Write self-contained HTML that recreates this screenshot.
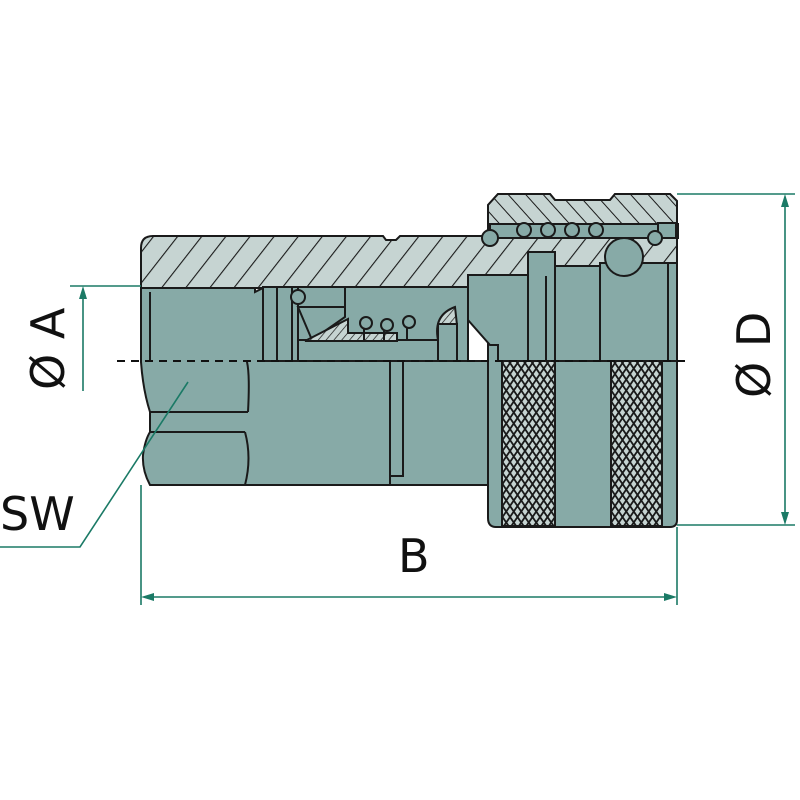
<!DOCTYPE html>
<html><head><meta charset="utf-8"><style>
html,body{margin:0;padding:0;background:#fff;}
svg{display:block;}
text{font-family:"DejaVu Sans","Liberation Sans",sans-serif;fill:#111;}
</style></head><body>
<svg width="800" height="800" viewBox="0 0 800 800" xmlns="http://www.w3.org/2000/svg">
<defs>
<pattern id="h1" patternUnits="userSpaceOnUse" width="19" height="19" patternTransform="rotate(38)">
<rect width="19" height="19" fill="#c6d4d2"/><line x1="0" y1="0" x2="0" y2="19" stroke="#1a1a1a" stroke-width="2.2"/></pattern>
<pattern id="h2" patternUnits="userSpaceOnUse" width="13" height="13" patternTransform="rotate(-42)">
<rect width="13" height="13" fill="#c6d4d2"/><line x1="0" y1="0" x2="0" y2="13" stroke="#1a1a1a" stroke-width="2"/></pattern>
<pattern id="h3" patternUnits="userSpaceOnUse" width="6" height="6" patternTransform="rotate(40)">
<rect width="6" height="6" fill="#c6d4d2"/><line x1="0" y1="0" x2="0" y2="6" stroke="#1a1a1a" stroke-width="1.4"/></pattern>
<pattern id="kn" patternUnits="userSpaceOnUse" width="7.5" height="11">
<rect width="7.5" height="11" fill="#c6d4d2"/>
<path d="M0 0 L7.5 11 M7.5 0 L0 11" stroke="#1a1a1a" stroke-width="1.8"/></pattern>
</defs>
<g stroke="#1a1a1a" stroke-width="2" fill="#87aaa7">
<path d="M488 205 L498 194 L550 194 L555 200 L610 200 L615 194 L670 194 L677 201 L677 520 Q677 527 670 527 L496 527 Q488 527 488 518 Z"/>
<path d="M488 205 L498 194 L550 194 L555 200 L610 200 L615 194 L670 194 L677 201 L677 238 L600 238 L488 238 Z" fill="url(#h2)"/>
<rect x="490" y="224" width="188" height="14"/>
<rect x="658" y="223" width="18" height="15"/>
<path d="M141 248 Q141 236 153 236 L383 236 L386 240 L396 240 L400 236 L488 236 L488 238 L677 238 L677 266 L600 266 L555 276 L528 276 L528 275 L468 275 L468 287 L265 287 L265 288 L155 288 L141 288 Z" fill="url(#h1)"/>
<path d="M141 288 L255 288 L255 292 L265 287 L468 287 L468 361 L390 361 L390 485 L150 485 Q142 470 143 455 Q145 440 150 432 L150 412 Q143 390 141 362 Z"/>
<line x1="150" y1="292" x2="150" y2="361"/>
<line x1="150" y1="412" x2="248" y2="412"/>
<path d="M248 412 Q250 375 247 362 L247 361"/>
<line x1="150" y1="432" x2="245" y2="432"/>
<path d="M245 432 Q252 458 245 485"/>
<line x1="141" y1="288" x2="141" y2="361"/>
<rect x="390" y="361" width="98" height="124"/>
<rect x="390" y="361" width="13" height="115"/>
<rect x="263" y="287" width="35" height="74"/>
<line x1="277" y1="287" x2="277" y2="361"/>
<line x1="292" y1="287" x2="292" y2="361"/>
<rect x="298" y="287" width="47" height="20"/>
<path d="M298 307 L345 307 L345 317 L312 340 Z"/>
<rect x="298" y="340" width="140" height="21"/>
<path d="M305 341 L348 319 L348 333 L397 333 L397 341 Z" fill="url(#h3)"/>
<path d="M438 340 Q433 315 455 307 L457 325 L457 361 L438 361 Z" fill="url(#h3)"/>
<rect x="438" y="324" width="19" height="37"/>
<circle cx="366" cy="323" r="6"/><circle cx="387" cy="325" r="6"/><circle cx="409" cy="322" r="6"/>
<line x1="364" y1="329" x2="364" y2="340"/><line x1="384" y1="331" x2="384" y2="340"/><line x1="407" y1="328" x2="407" y2="340"/>
<circle cx="298" cy="297" r="7"/>
<path d="M468 275 L528 275 L528 361 L498 361 L498 345 L490 345 L468 320 Z"/>
<rect x="528" y="252" width="27" height="109"/>
<line x1="546" y1="276" x2="546" y2="361"/>
<rect x="555" y="266" width="45" height="95"/>
<rect x="600" y="263" width="77" height="98"/>
<line x1="668" y1="263" x2="668" y2="361"/>
<circle cx="490" cy="238" r="8"/>
<circle cx="524" cy="230" r="7"/><circle cx="548" cy="230" r="7"/><circle cx="572" cy="230" r="7"/><circle cx="596" cy="230" r="7"/>
<circle cx="655" cy="238" r="7"/>
<circle cx="624" cy="257" r="19"/>
<rect x="502" y="361" width="53" height="165" fill="url(#kn)"/>
<rect x="611" y="361" width="51" height="165" fill="url(#kn)"/>
</g>
<line x1="117" y1="361" x2="685" y2="361" stroke="#111" stroke-width="2" stroke-dasharray="8,6"/>
<g stroke="#1b7a66" stroke-width="1.6" fill="none">
<line x1="70" y1="286" x2="141" y2="286"/>
<line x1="83" y1="296" x2="83" y2="391"/>
<line x1="677" y1="194" x2="795" y2="194"/>
<line x1="677" y1="525" x2="795" y2="525"/>
<line x1="785" y1="204" x2="785" y2="515"/>
<line x1="141" y1="485" x2="141" y2="605"/>
<line x1="677" y1="527" x2="677" y2="605"/>
<line x1="151" y1="597" x2="667" y2="597"/>
<polyline points="0,547 80,547 188,382"/>
</g>
<g fill="#1b7a66">
<polygon points="83,286 79,299 87,299"/>
<polygon points="785,194 781,207 789,207"/>
<polygon points="785,525 781,512 789,512"/>
<polygon points="141,597 154,593 154,601"/>
<polygon points="677,597 664,593 664,601"/>
</g>
<text x="0" y="0" font-size="46" transform="translate(64,390) rotate(-90)">Ø A</text>
<text x="0" y="0" font-size="46" transform="translate(770,398) rotate(-90)">Ø D</text>
<text x="398" y="572" font-size="46">B</text>
<text x="0" y="530" font-size="46">SW</text>
</svg>
</body></html>
